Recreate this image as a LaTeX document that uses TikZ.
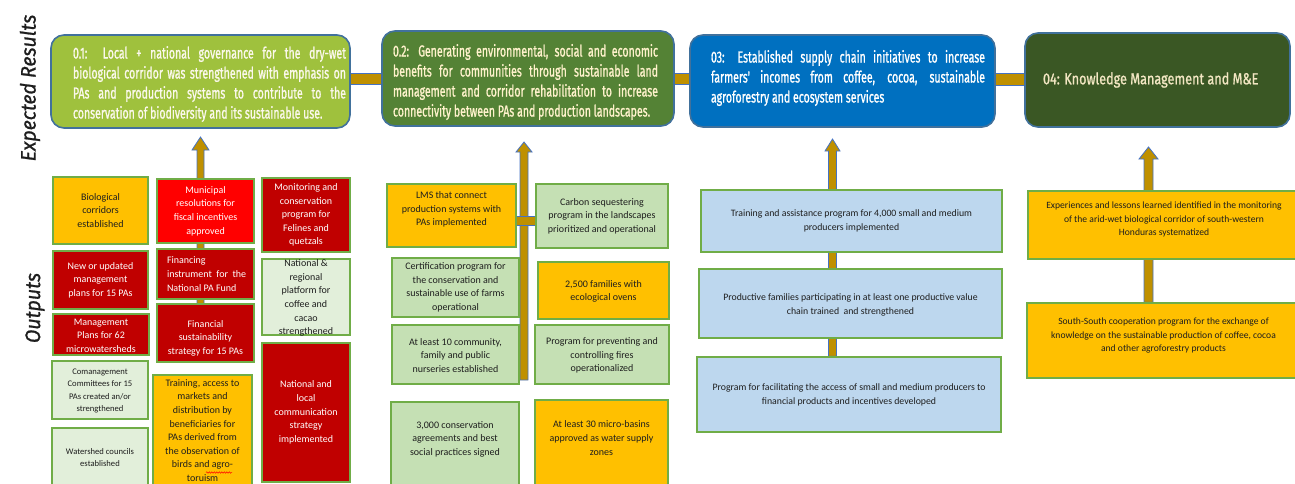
\documentclass[tikz,border=0pt]{standalone}
\usepackage{fontspec}
\setmainfont{Carlito}
\newfontfamily\ttlfont[FakeStretch=0.66, FakeBold=1]{Fira Sans}
\newfontfamily\ttlwide[FakeStretch=0.79, FakeBold=1]{Fira Sans}
\newfontfamily\lblfont[FakeStretch=0.93, FakeBold=1]{Fira Sans}
\usetikzlibrary{calc,decorations.pathmorphing}
\definecolor{goldbar}{HTML}{BF9000}
\definecolor{arrowedge}{HTML}{4472C4}
\definecolor{boxedge}{HTML}{41719C}
\definecolor{outedge}{HTML}{70AD47}
\definecolor{ofillA}{HTML}{9FC13D}
\definecolor{ofillB}{HTML}{548235}
\definecolor{ofillC}{HTML}{0070C0}
\definecolor{ofillD}{HTML}{3A5724}
\definecolor{goldbox}{HTML}{FFC000}
\definecolor{brightred}{HTML}{FF0000}
\definecolor{darkred}{HTML}{C00000}
\definecolor{palegreen}{HTML}{E2EFDA}
\definecolor{lightgreen}{HTML}{C5E0B4}
\definecolor{lightblue}{HTML}{BDD7EE}
\definecolor{creamA}{HTML}{FBF8EC}
\definecolor{creamB}{HTML}{FFF2CC}
\definecolor{creamD}{HTML}{F2E6C2}
\definecolor{darktext}{HTML}{1E1E1E}
\pgfdeclarelayer{bg}
\pgfsetlayers{bg,main}
\tikzset{
  result/.style={draw=boxedge, line width=1.6pt, rounded corners=13pt, inner sep=0pt,
    font=\ttlfont\fontsize{16}{20}\selectfont},
  outbox/.style={draw=outedge, line width=1.6pt, inner sep=0pt, font=\fontsize{10}{13.6}\selectfont},
  fgold/.style={fill=goldbox, text=darktext},
  fred/.style={fill=brightred, text=white},
  fdred/.style={fill=darkred, text=white},
  fpale/.style={fill=palegreen, text=darktext},
  flgreen/.style={fill=lightgreen, text=darktext},
  fblue/.style={fill=lightblue, text=darktext},
  arrowst/.style={fill=goldbar, draw=arrowedge, line width=0.8pt},
  barst/.style={fill=goldbar, draw=arrowedge, line width=0.8pt},
  lbl/.style={rotate=90, font=\lblfont\itshape\fontsize{21}{24}\selectfont, text=darktext, inner sep=0pt}
}
% name, x1, y1, x2, y2, style, shift up (px), text
\newcommand{\obox}[8]{%
  \node[outbox,#6,minimum width={#4-#2},minimum height={#5-#3}] (#1) at ({(#2+#4)/2},{(#3+#5)/2})
  {\vbox to 0pt{\vss\hsize=\dimexpr #4pt-#2pt-4pt\relax\centering #8\par\vss\kern\dimexpr #7pt*2\relax}};}
% bottom, tip, shaft half width, head half width, head length
\newcommand{\myarrow}[5]{%
  \draw[arrowst] ($(#1)+(-#3,0)$) -- ($(#2)+(-#3,#5)$) -- ($(#2)+(-#4,#5)$) -- (#2)
    -- ($(#2)+(#4,#5)$) -- ($(#2)+(#3,#5)$) -- ($(#1)+(#3,0)$) -- cycle;}
\begin{document}
\begin{tikzpicture}[x=1pt,y=-1pt]
\useasboundingbox (0,0) rectangle (1295,483);
\clip (0,0) rectangle (1295,483);

% side labels
\node[lbl] (lblres) at (30,88) {Expected Results};
\node[lbl] (lblout) at (35,308) {Outputs};

% expected results
\node[result, fill=ofillA, text=creamA, minimum width=299, minimum height=93] (O1) at (200.5,81.5)
 {\kern18pt\vbox to 0pt{\vss
  \hbox to 273pt{0.1: Local + national governance for the dry-wet}
  \hbox to 273pt{biological corridor was strengthened with emphasis on}
  \hbox to 273pt{PAs and production systems to contribute to the}
  \hbox{conservation of biodiversity and its sustainable use.}
  \vss\kern-5pt}};
\node[result, fill=ofillB, text=creamB, minimum width=292, minimum height=95] (O2) at (528,78.5)
 {\vbox to 0pt{\vss
  \hbox to 265pt{0.2: Generating environmental, social and economic}
  \hbox to 265pt{benefits for communities through sustainable land}
  \hbox to 265pt{management and corridor rehabilitation to increase}
  \hbox{connectivity between PAs and production landscapes.}
  \vss\kern-7pt}\kern5pt};
\node[result, fill=ofillC, text=white, minimum width=305, minimum height=92] (O3) at (842.5,81)
 {\kern11pt\vbox to 0pt{\vss
  \hbox to 274pt{03: Established supply chain initiatives to increase}
  \hbox to 274pt{farmers' incomes from coffee, cocoa, sustainable}
  \hbox{agroforestry and ecosystem services}
  \vss\kern6pt}};
\node[result, fill=ofillD, text=creamD, minimum width=265, minimum height=94,
  font=\ttlwide\fontsize{16}{20}\selectfont] (O4) at (1157.5,80)
 {\hbox to 229pt{04: Knowledge Management and M\&E\hfil}};

% column 1 outputs
\obox{bio}{53}{177}{148}{244}{fgold}{0}{Biological\\corridors\\established}
\obox{muni}{157}{179}{254}{243}{fred}{0}{Municipal\\resolutions for\\fiscal incentives\\approved}
\obox{monit}{262}{178}{350}{252}{fdred}{0}{Monitoring and\\conservation\\program for\\Felines and\\quetzals}
\obox{newplan}{53}{251}{148}{309}{fdred}{0}{New or updated\\management\\plans for 15 PAs}
\obox{fininst}{157}{249}{254}{299}{fdred}{0}{\raggedright\leftskip=8pt Financing\\instrument\ \ for\ \ the\\National PA Fund}
\obox{natreg}{262}{259}{350}{335}{fpale}{-1}{National \&\\regional\\platform for\\coffee and\\cacao\\strengthened}
\obox{mgmt}{53}{314}{149}{355}{fdred}{-1}{Management\\Plans for 62\\microwatersheds}
\obox{finsus}{157}{304}{254}{362}{fdred}{-5}{Financial\\sustainability\\strategy for 15 PAs}
\obox{coman}{52}{361}{148}{419}{fpale,font=\fontsize{8.6}{12.3}\selectfont}{-1}{Comanagement\\Committees for 15\\PAs created an/or\\strengthened}
\obox{water}{52}{428}{148}{487}{fpale,font=\fontsize{8.6}{12.5}\selectfont}{0}{Watershed councils\\established}
\obox{train}{153}{375}{252}{486}{fgold}{0}{Training, access to\\markets and\\distribution by\\beneficiaries for\\PAs derived from\\the observation of\\birds and agro-\\toruism}
\obox{natloc}{262}{343}{350}{482}{fdred}{0}{National and\\local\\communication\\strategy\\implemented}

% column 2 outputs
\obox{lms}{387}{184}{516}{247}{fgold}{6}{LMS that connect\\production systems with\\PAs implemented}
\obox{carbon}{536}{184}{668}{248}{flgreen}{0}{Carbon sequestering\\program in the landscapes\\prioritized and operational}
\obox{cert}{392}{258}{519}{317}{flgreen}{0}{Certification program for\\the conservation and\\sustainable use of farms\\operational}
\obox{ovens}{538}{262}{669}{319}{fgold}{-1}{2,500 families with\\ecological ovens}
\obox{nurs}{392}{325}{519}{384}{flgreen}{-1}{At least 10 community,\\family and public\\nurseries established}
\obox{fires}{535}{325}{669}{384}{flgreen}{-1}{Program for preventing and\\controlling fires\\operationalized}
\obox{agree}{391}{402}{519}{490}{flgreen}{7}{3,000 conservation\\agreements and best\\social practices signed}
\obox{basins}{535}{400}{668}{490}{fgold}{7}{At least 30 micro-basins\\approved as water supply\\zones}

% column 3 outputs
\obox{trainprog}{701}{190}{1002}{252}{fblue,font=\fontsize{9.8}{14}\selectfont}{0}{Training and assistance program for 4,000 small and medium\\producers implemented}
\obox{prodfam}{699}{269}{1002}{338}{fblue,font=\fontsize{9.8}{14}\selectfont}{-1}{Productive families participating in at least one productive value\\chain trained\ \ and strengthened}
\obox{access}{697}{357}{1001}{432}{fblue,font=\fontsize{9.8}{14}\selectfont}{0}{Program for facilitating the access of small and medium producers to\\financial products and incentives developed}

% column 4 outputs
\obox{lessons}{1028}{191}{1300}{259}{fgold,font=\fontsize{9.6}{13.5}\selectfont}{5.5}{Experiences and lessons learned identified in the monitoring\\of the arid-wet biological corridor of south-western\\Honduras systematized}
\obox{south}{1027}{303}{1300}{378}{fgold,font=\fontsize{9.6}{13.5}\selectfont}{5}{South-South cooperation program for the exchange of\\knowledge on the sustainable production of coffee, cocoa\\and other agroforestry products}

% spell-check mark
\draw[red, line width=0.5pt, decorate, decoration={snake, amplitude=0.7pt, segment length=2.5pt}] (206,472.5) -- (232,472.5);

% arrow end points
\coordinate (a1b) at (200.5,330);
\coordinate (a1t) at (200.5,137);
\coordinate (a2b) at (524,380);
\coordinate (a2t) at (524,142);
\coordinate (a3t) at (832.5,139);
\coordinate (a3m) at (access.north -| a3t);
\coordinate (a4t) at (1148.5,147);
\coordinate (a4b) at (south.north -| a4t);

\begin{pgfonlayer}{bg}
  \draw[barst] ($(O1.east |- O2.west)+(-4,-5.5)$) rectangle ($(O2.west)+(4,5.5)$);
  \draw[barst] ($(O2.east)+(-4,-5.5)$) rectangle ($(O3.west |- O2.east)+(4,5.5)$);
  \draw[barst] ($(O3.east)+(-4,-8)$) rectangle ($(O4.west |- O3.east)+(4,4)$);
  \myarrow{a1b}{a1t}{3.5}{8.5}{13}
  \myarrow{a2b}{a2t}{4}{8}{10}
  \draw[barst] ($(lms.east)+(-2,0.5)$) rectangle ($(carbon.west |- lms.east)+(2,9.5)$);
  \myarrow{a3m}{a3t}{4}{7.5}{12}
  \myarrow{a4b}{a4t}{4.5}{9.5}{12}
\end{pgfonlayer}
\end{tikzpicture}
\end{document}
